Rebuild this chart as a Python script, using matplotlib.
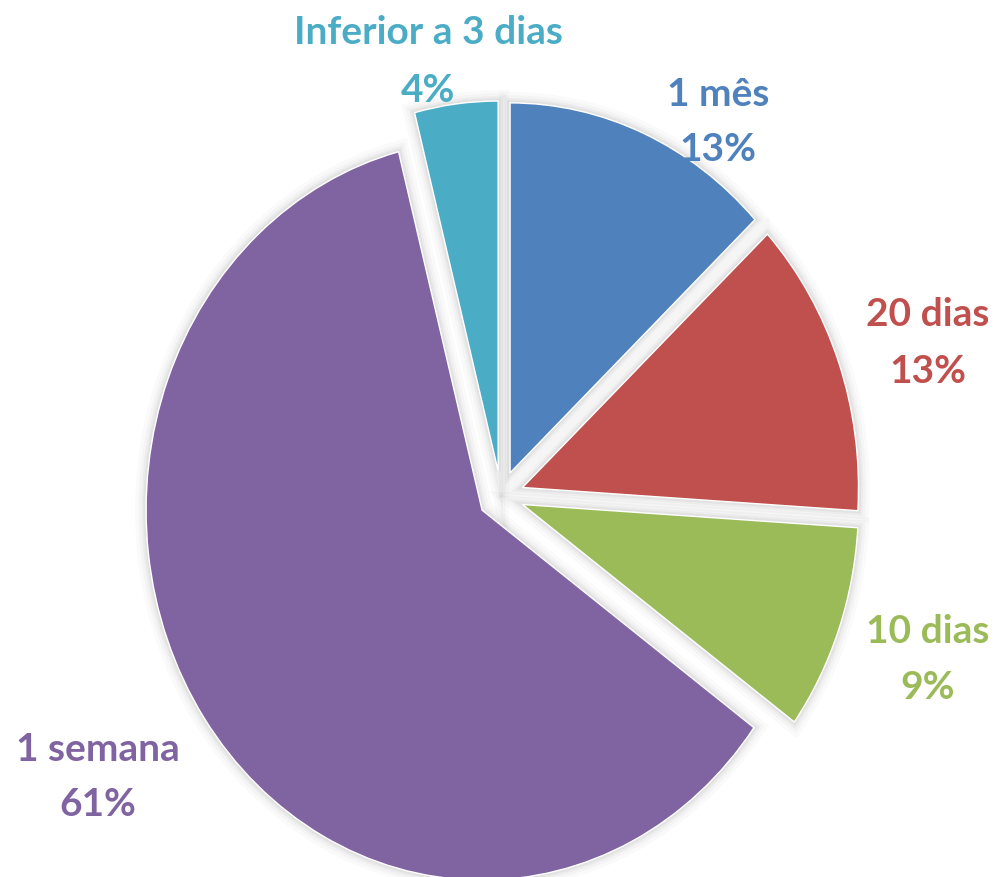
import matplotlib
matplotlib.use("Agg")
import matplotlib.pyplot as plt
from matplotlib.patches import Wedge
import numpy as np

categories = ["1 mês", "20 dias", "10 dias", "1 semana", "Inferior a 3 dias"]
values = [13, 13, 9, 61, 4]
pct_labels = ["13%", "13%", "9%", "61%", "4%"]
colors = ["#4F81BD", "#C0504D", "#9BBB59", "#8064A2", "#4BACC6"]

W, H = 996, 878
fig = plt.figure(figsize=(W / 100, H / 100), dpi=100)
ax = fig.add_axes([0, 0, 1, 1])

explode = [0.068] * len(values)
wedges, _ = ax.pie(values, colors=colors, startangle=90, counterclock=False,
                   explode=explode, radius=1.0,
                   wedgeprops=dict(edgecolor="white", linewidth=1.0))

# soft shadow behind each wedge
for w in wedges:
    for lw, a in [(16, 0.02), (11, 0.025), (7, 0.03), (4, 0.04)]:
        sh = Wedge(w.center, w.r, w.theta1, w.theta2, facecolor="none",
                   edgecolor="black", linewidth=lw, alpha=a, zorder=0.5)
        sh.set_transform(w.get_transform())
        ax.add_patch(sh)
    w.set_zorder(2)

# elliptical (stretched) pie like the reference
cx_px, cy_px = 501, 497
rx_px, ry_px = 336, 370
ax.set_aspect("auto")
ax.set_xlim(-cx_px / rx_px, (W - cx_px) / rx_px)
ax.set_ylim(-(H - cy_px) / ry_px, cy_px / ry_px)
ax.axis("off")

# label positions (pixel centres of name line, pct line)
label_pos = [(718, 95, 150), (928, 315, 372), (928, 632, 688),
             (98, 750, 805), (428, 33, 90)]
font = dict(family=["Lato", "DejaVu Sans"], fontweight="bold", fontsize=28)
for cat, pct, col, (x, y1, y2) in zip(categories, pct_labels, colors, label_pos):
    fig.text(x / W, 1 - y1 / H, cat, color=col, ha="center", va="center", **font)
    fig.text(x / W, 1 - y2 / H, pct, color=col, ha="center", va="center", **font)

fig.savefig("out.png", dpi=100)
